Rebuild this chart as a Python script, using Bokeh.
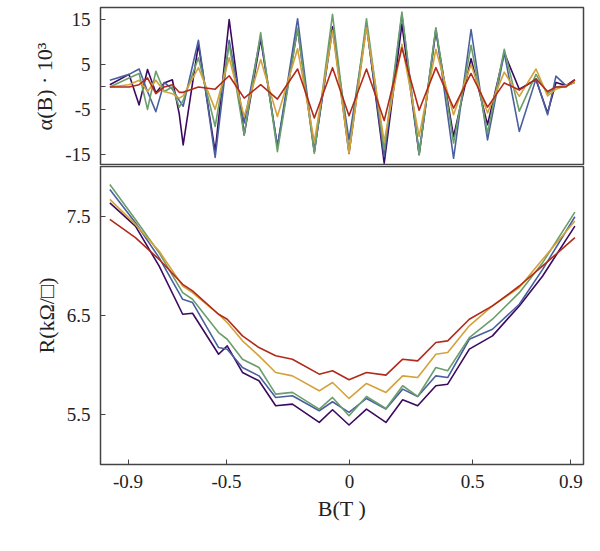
from bokeh.plotting import figure
from bokeh.layouts import column
from bokeh.models import FixedTicker
from bokeh.embed import file_html
from bokeh.resources import INLINE

# top panel: alpha(B) * 10^3
b_top = [-0.974, -0.896, -0.855, -0.821, -0.787, -0.753, -0.720, -0.692, -0.676, -0.614,
         -0.546, -0.489, -0.428, -0.361, -0.293, -0.211, -0.143, -0.069, -0.002, 0.069,
         0.141, 0.213, 0.283, 0.351, 0.423, 0.494, 0.561, 0.629, 0.690, 0.758,
         0.805, 0.839, 0.880, 0.916]
a_purple = [0.5, 2.8, -4, 3.9, -1.3, 0.9, 1.6, -6, -12.9, 9.5, -14.4, 15, -10.7, 10.7, -13.3, 13,
            -14.4, 13.4, -14.8, 14, -17, 14, -15.1, 12.5, -11, 6.3, -8.4, 7.6, -0.5, 1.6,
            -5.8, 1.0, 0.3, 1.6]
a_blue = [1.5, 2.8, 4, -1, -5.5, 1, -0.5, -3, -4.3, 10.4, -15.7, 10.4, -8, 11.3, -13.3, 15.2,
          -14.4, 12.8, -11.8, 13.6, -15.5, 16.2, -14.8, 13, -15.9, 12.8, -11.8, 7.6, -9.9, 1.8,
          -6.2, 2.4, 0.3, 1]
a_green = [0, 2, 3, -5, 3.5, -1, 0, -4.5, -3, 6.5, -8.8, 9.5, -10.7, 12.1, -14.4, 13,
           -14.8, 16.2, -14.4, 15.2, -14, 16.7, -15.1, 13.2, -12.5, 9.3, -10.3, 8.4, -5.4, 2.8,
           -1.5, 0, 0.3, 1]
a_gold = [0, 0.5, 1.5, -1, 1.5, -1, -1.5, -2.5, -2, 4.3, -5, 6.5, -6.6, 6.1, -6.6, 8.5,
          -12.2, 12.5, -14.8, 13.2, -12.2, 9.5, -11, 8.4, -6.2, 5, -5.8, 3.3, -2.1, 4,
          -2, -0.5, 0.3, 1]
a_red = [0, 0, 0.5, 2, -1.5, 0, 0.5, -1.2, -1.2, 0, -0.5, 2.5, -2.5, 0.5, -2.7, 4,
         -6.9, 4.3, -6.4, 4, -7.5, 8.7, -5.2, 4.3, -4.7, 3, -4.5, 0.9, -0.7, 1.8,
         -1, 0, 0, 1.6]

# bottom panel: R (kOhm/sq)
b_bot = [-0.974, -0.870, -0.774, -0.678, -0.638, -0.532, -0.497, -0.435, -0.368, -0.300,
         -0.232, -0.123, -0.069, -0.002, 0.069, 0.148, 0.216, 0.277, 0.351, 0.399,
         0.487, 0.581, 0.690, 0.785, 0.916]
r_purple = [7.634, 7.399, 6.997, 6.510, 6.520, 6.107, 6.191, 5.923, 5.839, 5.587, 5.604, 5.419,
            5.547, 5.393, 5.554, 5.419, 5.648, 5.587, 5.789, 5.805, 6.158, 6.292, 6.594, 6.896, 7.399]
r_blue = [7.768, 7.433, 7.081, 6.661, 6.628, 6.174, 6.158, 5.973, 5.889, 5.671, 5.688, 5.537,
          5.628, 5.520, 5.661, 5.554, 5.755, 5.681, 5.889, 5.872, 6.258, 6.359, 6.611, 6.963, 7.493]
r_green = [7.819, 7.466, 7.131, 6.728, 6.661, 6.326, 6.258, 6.057, 5.973, 5.705, 5.722, 5.554,
           5.671, 5.487, 5.681, 5.560, 5.789, 5.681, 5.973, 5.940, 6.275, 6.460, 6.728, 7.030, 7.540]
r_gold = [7.668, 7.416, 7.148, 6.795, 6.728, 6.510, 6.426, 6.242, 6.091, 5.923, 5.889, 5.738,
          5.822, 5.661, 5.812, 5.722, 5.889, 5.872, 6.107, 6.124, 6.393, 6.594, 6.779, 7.064, 7.450]
r_red = [7.466, 7.282, 7.064, 6.812, 6.745, 6.510, 6.460, 6.292, 6.174, 6.091, 6.057, 5.906,
         5.940, 5.849, 5.923, 5.896, 6.057, 6.040, 6.225, 6.242, 6.460, 6.594, 6.795, 6.997, 7.282]

colors = ["#3b0a5e", "#4a5fa0", "#6a9e6a", "#d4a23a", "#b22a1a"]
top_series = [a_purple, a_blue, a_green, a_gold, a_red]
bot_series = [r_purple, r_blue, r_green, r_gold, r_red]

x_ticks = [-0.9, -0.5, 0, 0.5, 0.9]
x_labels = ["-0.9", "-0.5", "0", "0.5", "0.9"]
a_ticks = [-15, -5, 0, 5, 15]
a_labels = ["-15", "-5", "", "5", "15"]
r_ticks = [5.5, 6.5, 7.5]

FONT = "Liberation Serif"


def style(p):
    p.grid.visible = False
    p.outline_line_color = "#444444"
    p.outline_line_width = 1.5
    for ax in p.xaxis + p.yaxis:
        ax.axis_line_color = None
        ax.major_tick_in = 5
        ax.major_tick_out = 0
        ax.minor_tick_line_color = None
        ax.major_tick_line_color = "#444444"
        ax.major_label_standoff = 10
        ax.major_label_text_font = FONT
        ax.major_label_text_font_size = "19px"
        ax.major_label_text_color = "#222222"
        ax.axis_label_text_font = FONT
        ax.axis_label_text_font_size = "22px"
        ax.axis_label_text_font_style = "normal"
        ax.axis_label_text_color = "#222222"


p1 = figure(width=585, height=165, x_range=(-1.012, 0.951), y_range=(-17.5, 17.7),
            output_backend="svg", toolbar_location=None,
            min_border_left=100, min_border_right=2, min_border_top=7, min_border_bottom=0)
for ys, c in zip(top_series, colors):
    p1.line(b_top, ys, color=c, line_width=1.6, line_join="round")
p1.xaxis.visible = False
p1.yaxis.ticker = FixedTicker(ticks=a_ticks)
p1.yaxis.major_label_overrides = dict(zip(a_ticks, a_labels))
p1.yaxis.axis_label = "α(B) · 10³"
style(p1)

p2 = figure(width=585, height=375, x_range=p1.x_range, y_range=(4.995, 8.0),
            output_backend="svg", toolbar_location=None,
            min_border_left=100, min_border_right=2, min_border_top=1, min_border_bottom=76)
for ys, c in zip(bot_series, colors):
    p2.line(b_bot, ys, color=c, line_width=1.6, line_join="round")
p2.xaxis.ticker = FixedTicker(ticks=x_ticks)
p2.xaxis.major_label_overrides = dict(zip(x_ticks, x_labels))
p2.yaxis.ticker = FixedTicker(ticks=r_ticks)
p2.xaxis.axis_label = "B(T )"
p2.yaxis.axis_label = "R(kΩ/□)"
style(p2)

layout = column(p1, p2, spacing=0)
open("out.html", "w").write(file_html(layout, INLINE))
